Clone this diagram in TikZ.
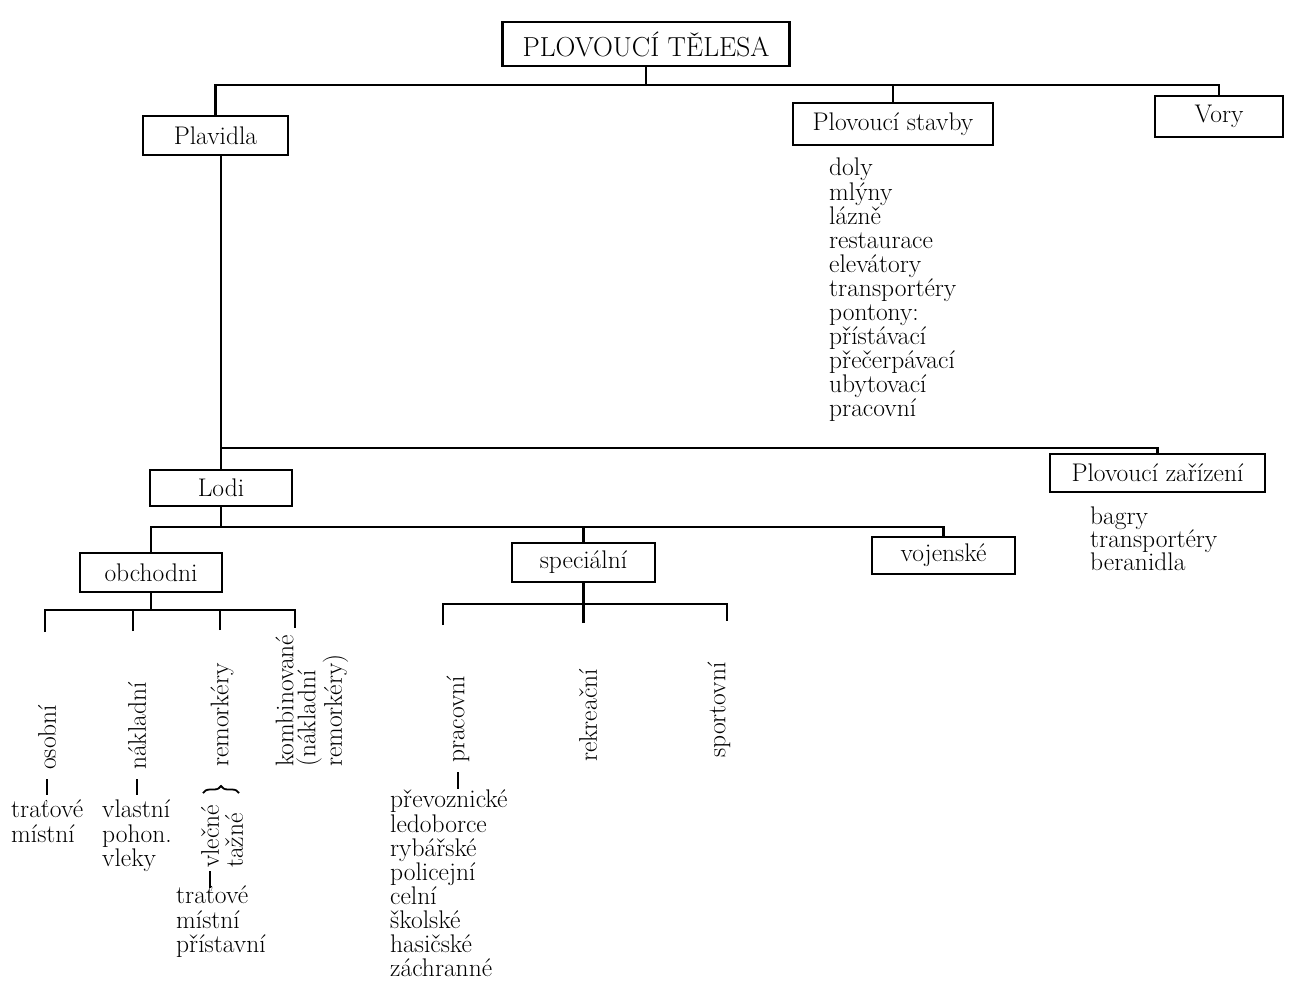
\documentclass[tikz,border=0pt]{standalone}
\usepackage{fontspec}
\usetikzlibrary{decorations.pathreplacing}
\newcommand\heavyfont[2]{\fontsize{#1}{#2}\selectfont\addfontfeatures{FakeBold=1.6}}
\begin{document}
\begin{tikzpicture}[x=1pt,y=-1pt,
  box/.style={draw, line width=2.6pt, inner sep=0pt, font=\heavyfont{25.5}{26}},
  conn/.style={line width=2.6pt},
  lst/.style={align=left, anchor=north west, inner sep=0pt, font=\heavyfont{25.5}{24.1}},
  rot/.style={rotate=90, anchor=west, inner sep=0pt, align=left, font=\heavyfont{25.5}{23}},
]
\useasboundingbox (0,0) rectangle (1306,994);

% boxes
\node[box, minimum width=287, minimum height=44, font=\heavyfont{27.5}{28}] (root) at (646,44) {PLOVOUCÍ TĚLESA};
\node[box, minimum width=145, minimum height=39] (plav) at (215.5,135.5) {Plavidla};
\node[box, minimum width=200, minimum height=42] (stav) at (893,124) {Plovoucí stavby};
\node[box, minimum width=128, minimum height=41] (vory) at (1219,116.5) {Vory};
\node[box, minimum width=142, minimum height=36] (lodi) at (221,488) {Lodi};
\node[box, minimum width=215, minimum height=38] (zar) at (1157.5,473) {Plovoucí zařízení};
\node[box, minimum width=142, minimum height=39] (obch) at (151,572.5) {obchodni};
\node[box, minimum width=143, minimum height=39] (spec) at (583.5,562.5) {speciální};
\node[box, minimum width=143, minimum height=37] (voj) at (943.5,555.5) {vojenské};

% lists
\node[lst] (stavlist) at (829,158) {doly\\mlýny\\lázně\\restaurace\\elevátory\\transportéry\\pontony:\\přístávací\\přečerpávací\\ubytovací\\pracovní};
\node[lst, font=\heavyfont{25.5}{23}] (zarlist) at (1090,507) {bagry\\transportéry\\beranidla};

% bus 1
\coordinate (b1) at (646,85);
\draw[conn] (root.south) -- (b1);
\draw[conn] (plav.north) |- (b1) -| (vory.north);
\draw[conn] (stav.north) -- (stav.north |- b1);

% Plavidla branch
\coordinate (b2) at (221,448);
\draw[conn] (plav.south -| lodi.north) -- (lodi.north);
\draw[conn] (b2) -| (zar.north);

% Lodi bus
\coordinate (b3) at (221,527);
\draw[conn] (lodi.south) -- (b3);
\draw[conn] (obch.north) |- (b3) -| (voj.north);
\draw[conn] (spec.north) -- (spec.north |- b3);

% obchodni bus
\coordinate (obbus) at (151,610);
\coordinate (ob1) at (45,632);
\coordinate (ob2) at (133,631);
\coordinate (ob3) at (220,630);
\coordinate (ob4) at (295,628);
\draw[conn] (obch.south) -- (obbus);
\draw[conn] (ob1) |- (obbus) -| (ob4);
\draw[conn] (ob2) -- (ob2 |- obbus);
\draw[conn] (ob3) -- (ob3 |- obbus);

% specialni bus
\coordinate (spbus) at (583.5,604);
\coordinate (sp1) at (443,625);
\coordinate (sp2) at (583.5,623);
\coordinate (sp3) at (727,621);
\draw[conn] (spec.south) -- (spbus);
\draw[conn] (sp1) |- (spbus) -| (sp3);
\draw[conn] (sp2) -- (sp2 |- spbus);

% rotated labels
\node[rot] (osob) at (47,770) {osobní};
\node[rot] (nakl) at (137,770) {nákladní};
\node[rot] (rem) at (222,767) {remorkéry};
\node[rot, font=\heavyfont{25.5}{22}] (komb) at (312,767) {kombinované\\(nákladní\\remorkéry)};
\node[rot] (prac) at (458,763) {pracovní};
\node[rot] (rekr) at (588,762) {rekreační};
\node[rot] (sport) at (719,758) {sportovní};
\node[rot, font=\heavyfont{25.5}{24}] (vt) at (222,868) {vlečné\\tažné};

% brace under remorkery
\coordinate (br1) at (203,793);
\coordinate (br2) at (239,793);
\draw[line width=1.8pt, decorate, decoration={brace, amplitude=7pt}] (br1) -- (br2);

% lower lists
\node[lst] (osoblist) at (11,800) {traťové\\místní};
\node[lst] (nakllist) at (102,800) {vlastní\\pohon.\\vleky};
\node[lst] (vlelist) at (176,886) {traťové\\místní\\přístavní};
\node[lst] (praclist) at (390,790) {převoznické\\ledoborce\\rybářské\\policejní\\celní\\školské\\hasičské\\záchranné};

% short bars
\draw[conn] ([yshift=-9pt]osob.west) -- ([yshift=-25pt]osob.west);
\draw[conn] ([yshift=-9pt]nakl.west) -- ([yshift=-25pt]nakl.west);
\draw[conn] ([xshift=-12pt,yshift=-3pt]vt.west) -- ([xshift=-12pt,yshift=-20pt]vt.west);
\draw[conn] ([yshift=-9pt]prac.west) -- ([yshift=-26pt]prac.west);
\end{tikzpicture}
\end{document}
